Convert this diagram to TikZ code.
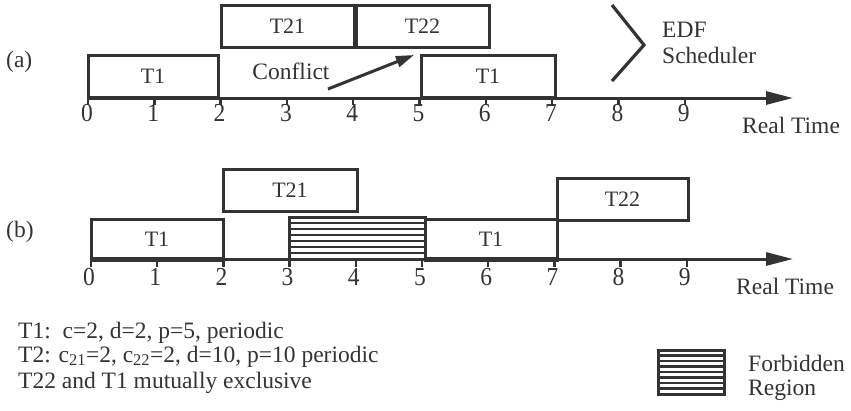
\documentclass[tikz,border=0pt]{standalone}
\usepackage{fontspec}
\setmainfont{Liberation Serif}
\usetikzlibrary{arrows.meta}
\definecolor{ink}{HTML}{333333}
\begin{document}
\begin{tikzpicture}[x=1pt,y=-1pt,
  every node/.style={text=ink, inner sep=0pt},
  lbl/.style={font=\fontsize{23.5}{28}\selectfont},
  taskbox/.style={draw=ink, line width=3pt, font=\fontsize{22}{26}\selectfont},
  hatchbox/.style args={#1/#2}{draw=ink, line width=3pt,
    path picture={\foreach \k in {1,...,#1}{\draw[ink,line width=2.5pt]
      ([yshift=-\k*#2]path picture bounding box.north west) --
      ([yshift=-\k*#2]path picture bounding box.north east);}}},
  ln/.style={draw=ink, line width=3pt},
  axisline/.style={draw=ink, line width=3pt, -{Triangle[length=27pt,width=13pt]}},
  tickmark/.style={draw=ink, line width=2.4pt},
  ticklbl/.style={font=\fontsize{23.5}{28}\selectfont},
  thickbase/.style={draw=ink, line width=5pt}
]
\useasboundingbox (0,0) rectangle (851,410);

% ---------------- (a) ----------------
\node[lbl, anchor=base west] (la) at (6,67) {(a)};
\coordinate (a0) at (88,98);
\coordinate (aend) at (793,98);
\draw[axisline] (a0) -- (aend);
\foreach \i in {0,...,9}{
  \coordinate (at\i) at ({88+66.3*\i},98);
  \draw[tickmark] (at\i) -- ++(0,7);
  \node[ticklbl] (al\i) at ({87+66.3*\i},113) {\scalebox{1}[1.1]{\i}};
}
\node[taskbox, minimum width=130pt, minimum height=42pt] (aT1) at (153,76) {T1};
\node[taskbox, minimum width=133pt, minimum height=42pt] (aT21) at (287.5,26) {T21};
\node[taskbox, minimum width=133pt, minimum height=42pt] (aT22) at (422.5,26) {T22};
\node[taskbox, minimum width=134pt, minimum height=42pt] (aT1b) at (488,76) {T1};
\node[lbl] (conf) at (291,71) {Conflict};
\coordinate (cs) at (328,89);
\coordinate (ce) at (414,55);
\draw[ln, -{Triangle[length=18pt,width=11pt]}] (cs) -- (ce);
\coordinate (e1) at (612,5);
\coordinate (e2) at (644,45);
\coordinate (e3) at (612,81);
\draw[ln, line width=3.2pt] (e1) -- (e2) -- (e3);
\node[lbl, anchor=base west] (edf) at (662,37) {EDF};
\node[lbl, anchor=base west] (sched) at (662,63) {Scheduler};
\node[lbl, anchor=base west] (rta) at (742,133) {Real Time};

% ---------------- (b) ----------------
\node[lbl, anchor=base west] (lb) at (6,237) {(b)};
\coordinate (b0) at (91,259);
\coordinate (bend) at (793,259);
\draw[axisline] (b0) -- (bend);
\foreach \i in {0,...,9}{
  \coordinate (bt\i) at ({91+66.2*\i},259);
  \draw[tickmark] (bt\i) -- ++(0,8);
  \node[ticklbl] (bl\i) at ({89+66.2*\i},277) {\scalebox{1}[1.1]{\i}};
}
\node[taskbox, minimum width=132pt, minimum height=40pt] (bT1) at (157,239) {T1};
\draw[thickbase] ([yshift=1pt]bT1.south west) -- ([yshift=1pt]bT1.south east);
\node[taskbox, minimum width=134pt, minimum height=42pt] (bT21) at (290,190) {T21};
\node[hatchbox=6/6pt, minimum width=136pt, minimum height=42pt] (forb) at (357,238) {};
\node[taskbox, minimum width=132pt, minimum height=40pt] (bT1b) at (491,239) {T1};
\draw[thickbase] ([yshift=1pt]bT1b.south west) -- ([yshift=1pt]bT1b.south east);
\node[taskbox, minimum width=131pt, minimum height=42pt] (bT22) at (622.5,199) {T22};
\node[lbl, anchor=base west] (rtb) at (736,294) {Real Time};

% ---------------- legend & notes ----------------
\node[hatchbox=7/5.5pt, minimum width=66pt, minimum height=44pt] (leg) at (691,372) {};
\node[lbl, anchor=base west] (forbt) at (748,371) {Forbidden};
\node[lbl, anchor=base west] (regt) at (748,395) {Region};

\node[lbl, anchor=base west] (n1) at (18,338) {T1:\ \ c=2, d=2, p=5, periodic};
\node[lbl, anchor=base west] (n2) at (18,362) {T2: c\textsubscript{21}=2, c\textsubscript{22}=2, d=10, p=10 periodic};
\node[lbl, anchor=base west] (n3) at (18,388) {T22 and T1 mutually exclusive};
\end{tikzpicture}
\end{document}
